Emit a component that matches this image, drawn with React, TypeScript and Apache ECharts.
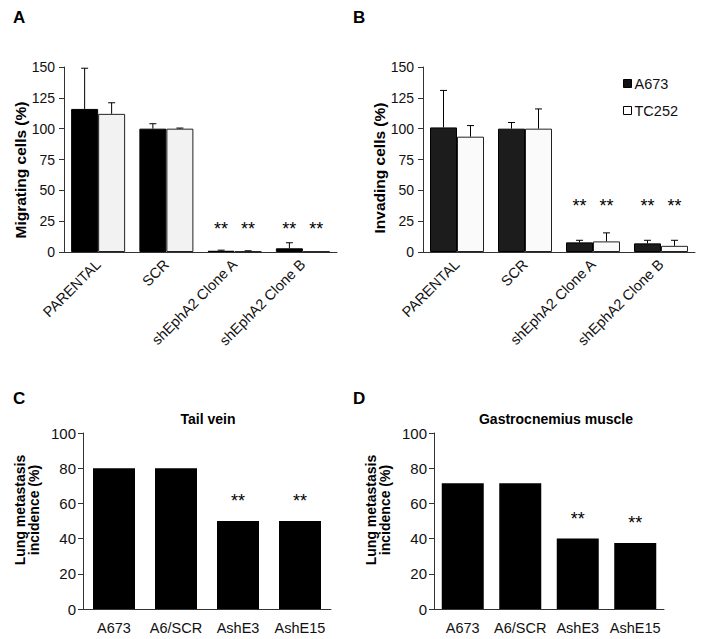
import React, { useEffect, useRef } from "react";
import * as echarts from "echarts";

// ---------- data ----------
const groupsAB = ["PARENTAL", "SCR", "shEphA2 Clone A", "shEphA2 Clone B"];
const lineNames = ["A673", "TC252"];

// Panel A: migrating cells (%)
const migA673 = [116, 100, 1, 3];
const migA673Err = [149, 104, 1.5, 7.5];
const migTC252 = [112, 100, 0.5, 0.5];
const migTC252Err = [121, 100.5, 1, 0.5];
const migStars = ["", "", "**", "**"];
const migStarLevel = 19;

// Panel B: invading cells (%)
const invA673 = [101, 100, 7.8, 7];
const invA673Err = [131, 105, 9.5, 9.5];
const invTC252 = [93.5, 100, 8.6, 5];
const invTC252Err = [102.5, 116, 15.5, 9.5];
const invStars = ["", "", "**", "**"];
const invStarLevel = 37;

// Panels C/D: lung metastasis incidence (%)
const groupsCD = ["A673", "A6/SCR", "AshE3", "AshE15"];
const tailVein = [80, 80, 50, 50];
const tailStars = ["", "", "**", "**"];
const gastro = [71.4, 71.4, 40, 37.5];
const gastroStars = ["", "", "**", "**"];

const ticksAB = [0, 25, 50, 75, 100, 125, 150];
const ticksCD = [0, 20, 40, 60, 80, 100];

// ---------- style ----------
const FONT = 'Arial, "Liberation Sans", sans-serif';
const AXIS_COLOR = "#333";
const BAR_W_AB = 27;

function errRender(offset: number, stars: string[]) {
  return (params: any, api: any) => {
    const i = api.value(0);
    const v = api.value(1);
    const e = api.value(2);
    const lvl = api.value(3);
    const base = api.coord([i, v]);
    const top = api.coord([i, e]);
    const x = base[0] + offset;
    const children: any[] = [];
    if (e > v + 0.01) {
      children.push({
        type: "line",
        shape: { x1: x, y1: base[1], x2: x, y2: top[1] },
        style: { stroke: "#000", lineWidth: 1 },
      });
      children.push({
        type: "line",
        shape: { x1: x - 3.5, y1: top[1], x2: x + 3.5, y2: top[1] },
        style: { stroke: "#000", lineWidth: 1 },
      });
    }
    if (stars[i]) {
      const sp = api.coord([i, lvl]);
      children.push({
        type: "text",
        style: {
          text: stars[i],
          x: x,
          y: sp[1],
          align: "center",
          verticalAlign: "middle",
          font: `18px ${FONT}`,
          fill: "#000",
        },
      });
    }
    return { type: "group", children };
  };
}

function valueAxis(gridIndex: number, max: number, interval: number, fontSize: number, margin: number) {
  return {
    type: "value",
    gridIndex,
    min: 0,
    max,
    interval,
    axisLine: { show: true, lineStyle: { color: AXIS_COLOR, width: 1 } },
    axisTick: { show: true, length: 5, lineStyle: { color: AXIS_COLOR } },
    splitLine: { show: false },
    axisLabel: { fontSize, fontFamily: FONT, color: "#111", margin },
  };
}

export default function App() {
  const ref = useRef<HTMLDivElement>(null);

  useEffect(() => {
    if (!ref.current) return;
    const chart = echarts.init(ref.current, undefined, { renderer: "svg" });

    const catAxisAB = (gridIndex: number) => ({
      type: "category",
      gridIndex,
      data: groupsAB,
      axisLine: { show: true, lineStyle: { color: AXIS_COLOR, width: 1 } },
      axisTick: { show: false },
      axisLabel: { rotate: 45, interval: 0, fontSize: 14.5, fontFamily: FONT, color: "#111", margin: 10 },
    });
    const catAxisCD = (gridIndex: number) => ({
      type: "category",
      gridIndex,
      data: groupsCD,
      axisLine: { show: true, lineStyle: { color: AXIS_COLOR, width: 1 } },
      axisTick: { show: false },
      axisLabel: { interval: 0, fontSize: 14.5, fontFamily: FONT, color: "#111", margin: 11 },
    });

    const starLabel = (stars: string[]) => ({
      show: true,
      position: "top",
      distance: 11,
      fontSize: 18,
      fontFamily: FONT,
      color: "#000",
      formatter: (p: any) => stars[p.dataIndex] || "",
    });

    const option: any = {
      animation: false,
      backgroundColor: "#fff",
      grid: [
        { left: 64, top: 67, width: 273, height: 185 },
        { left: 423, top: 67, width: 272, height: 185 },
        { left: 83, top: 433, width: 248, height: 176 },
        { left: 434, top: 433, width: 230, height: 176 },
      ],
      xAxis: [catAxisAB(0), catAxisAB(1), catAxisCD(2), catAxisCD(3)],
      yAxis: [
        valueAxis(0, ticksAB[ticksAB.length - 1], ticksAB[1] - ticksAB[0], 14, 9),
        valueAxis(1, ticksAB[ticksAB.length - 1], ticksAB[1] - ticksAB[0], 14, 9),
        valueAxis(2, ticksCD[ticksCD.length - 1], ticksCD[1] - ticksCD[0], 15, 7),
        valueAxis(3, ticksCD[ticksCD.length - 1], ticksCD[1] - ticksCD[0], 15, 7),
      ],
      legend: {
        orient: "vertical",
        left: 623,
        top: 76,
        padding: 0,
        itemWidth: 8,
        itemHeight: 8,
        itemGap: 12,
        icon: "rect",
        textStyle: { fontSize: 14.5, fontFamily: FONT, color: "#111", padding: [0, 0, 0, -2] },
        data: [
          { name: lineNames[0], itemStyle: { color: "#111", borderColor: "#000", borderWidth: 1 } },
          { name: lineNames[1], itemStyle: { color: "#fff", borderColor: "#000", borderWidth: 1 } },
        ],
      },
      series: [
        // Panel A
        {
          name: lineNames[0], type: "bar", xAxisIndex: 0, yAxisIndex: 0,
          data: migA673, barWidth: BAR_W_AB, barGap: "0%",
          itemStyle: { color: "#000", borderColor: "#000", borderWidth: 1 },
        },
        {
          name: lineNames[1], type: "bar", xAxisIndex: 0, yAxisIndex: 0,
          data: migTC252, barWidth: BAR_W_AB, barGap: "0%",
          itemStyle: { color: "#f2f2f2", borderColor: "#222", borderWidth: 1 },
        },
        {
          type: "custom", xAxisIndex: 0, yAxisIndex: 0, z: 5, silent: true,
          renderItem: errRender(-BAR_W_AB / 2, migStars),
          encode: { x: 0, y: [1, 2] },
          data: migA673.map((v, i) => [i, v, migA673Err[i], migStarLevel]),
        },
        {
          type: "custom", xAxisIndex: 0, yAxisIndex: 0, z: 5, silent: true,
          renderItem: errRender(BAR_W_AB / 2, migStars),
          encode: { x: 0, y: [1, 2] },
          data: migTC252.map((v, i) => [i, v, migTC252Err[i], migStarLevel]),
        },
        // Panel B
        {
          name: lineNames[0], type: "bar", xAxisIndex: 1, yAxisIndex: 1,
          data: invA673, barWidth: BAR_W_AB, barGap: "0%",
          itemStyle: { color: "#1c1c1c", borderColor: "#000", borderWidth: 1 },
        },
        {
          name: lineNames[1], type: "bar", xAxisIndex: 1, yAxisIndex: 1,
          data: invTC252, barWidth: BAR_W_AB, barGap: "0%",
          itemStyle: { color: "#fafafa", borderColor: "#222", borderWidth: 1 },
        },
        {
          type: "custom", xAxisIndex: 1, yAxisIndex: 1, z: 5, silent: true,
          renderItem: errRender(-BAR_W_AB / 2, invStars),
          encode: { x: 0, y: [1, 2] },
          data: invA673.map((v, i) => [i, v, invA673Err[i], invStarLevel]),
        },
        {
          type: "custom", xAxisIndex: 1, yAxisIndex: 1, z: 5, silent: true,
          renderItem: errRender(BAR_W_AB / 2, invStars),
          encode: { x: 0, y: [1, 2] },
          data: invTC252.map((v, i) => [i, v, invTC252Err[i], invStarLevel]),
        },
        // Panel C
        {
          type: "bar", xAxisIndex: 2, yAxisIndex: 2, data: tailVein, barWidth: 42,
          itemStyle: { color: "#000" }, label: starLabel(tailStars),
        },
        // Panel D
        {
          type: "bar", xAxisIndex: 3, yAxisIndex: 3, data: gastro, barWidth: 42,
          itemStyle: { color: "#000" }, label: starLabel(gastroStars),
        },
      ],
      graphic: [
        { type: "text", x: 13, y: 17, style: { text: "A", font: `bold 17px ${FONT}`, fill: "#000", verticalAlign: "middle" } },
        { type: "text", x: 353, y: 17, style: { text: "B", font: `bold 17px ${FONT}`, fill: "#000", verticalAlign: "middle" } },
        { type: "text", x: 13, y: 398, style: { text: "C", font: `bold 17px ${FONT}`, fill: "#000", verticalAlign: "middle" } },
        { type: "text", x: 353, y: 398, style: { text: "D", font: `bold 17px ${FONT}`, fill: "#000", verticalAlign: "middle" } },
        {
          type: "text", x: 20, y: 170, rotation: Math.PI / 2,
          style: { text: "Migrating cells (%)", font: `bold 15.5px ${FONT}`, fill: "#000", align: "center", verticalAlign: "middle" },
        },
        {
          type: "text", x: 379, y: 168, rotation: Math.PI / 2,
          style: { text: "Invading cells (%)", font: `bold 15.5px ${FONT}`, fill: "#000", align: "center", verticalAlign: "middle" },
        },
        {
          type: "text", x: 20, y: 510, rotation: Math.PI / 2,
          style: { text: "Lung metastasis", font: `bold 14px ${FONT}`, fill: "#000", align: "center", verticalAlign: "middle" },
        },
        {
          type: "text", x: 34, y: 510, rotation: Math.PI / 2,
          style: { text: "incidence (%)", font: `bold 14px ${FONT}`, fill: "#000", align: "center", verticalAlign: "middle" },
        },
        {
          type: "text", x: 371, y: 510, rotation: Math.PI / 2,
          style: { text: "Lung metastasis", font: `bold 14px ${FONT}`, fill: "#000", align: "center", verticalAlign: "middle" },
        },
        {
          type: "text", x: 385, y: 510, rotation: Math.PI / 2,
          style: { text: "incidence (%)", font: `bold 14px ${FONT}`, fill: "#000", align: "center", verticalAlign: "middle" },
        },
        {
          type: "text", x: 208, y: 419,
          style: { text: "Tail vein", font: `bold 14px ${FONT}`, fill: "#000", align: "center", verticalAlign: "middle" },
        },
        {
          type: "text", x: 556, y: 419,
          style: { text: "Gastrocnemius muscle", font: `bold 14px ${FONT}`, fill: "#000", align: "center", verticalAlign: "middle" },
        },
      ],
    };

    chart.setOption(option);
    return () => chart.dispose();
  }, []);

  return (
    <div
      ref={ref}
      style={{ position: "absolute", left: 0, top: 0, width: 704, height: 639, background: "#fff" }}
    />
  );
}
